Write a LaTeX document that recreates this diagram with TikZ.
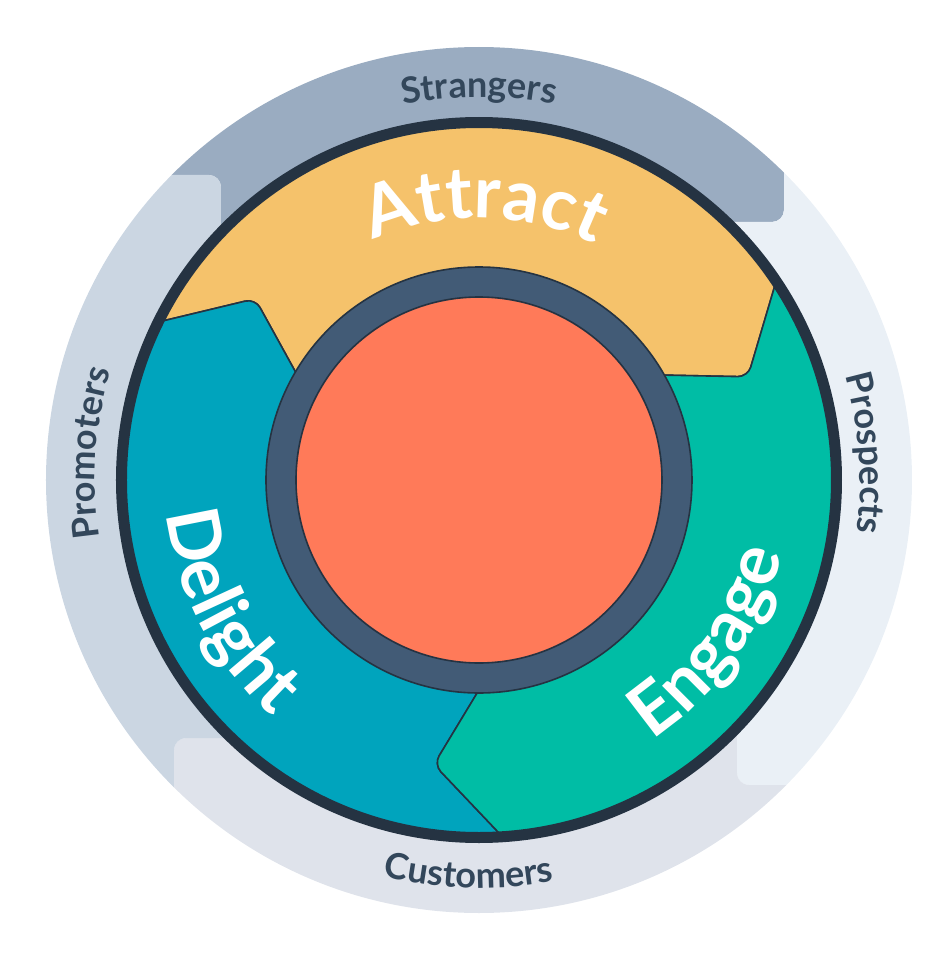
\documentclass[tikz,border=0pt]{standalone}
\usepackage{fontspec}
\setmainfont{Lato}
\usetikzlibrary{calc,decorations.text}
\definecolor{flint}{HTML}{9AACC1}
\definecolor{battleship}{HTML}{CBD6E2}
\definecolor{greatwhite}{HTML}{DFE3EB}
\definecolor{kalei}{HTML}{EAF0F6}
\definecolor{obsidian}{HTML}{253342}
\definecolor{slinky}{HTML}{33475B}
\definecolor{slate}{HTML}{425B76}
\definecolor{lorax}{HTML}{FF7A59}
\definecolor{marigold}{HTML}{F5C26B}
\definecolor{calypso}{HTML}{00A4BD}
\definecolor{oz}{HTML}{00BDA5}

\begin{document}
\begin{tikzpicture}[
  x=1pt, y=1pt,
  band/.style={fill=#1, rounded corners=12pt},
  stage/.style={fill=#1, draw=obsidian, line width=1.6pt, rounded corners=10pt, line join=round},
  outerlbl/.style={decorate, decoration={text along path, text align=center, text color=slinky, text={|\fontsize{36}{36}\selectfont\bfseries|#1}}},
  stagelbl/.style={decorate, decoration={text along path, text align=center, text color=white, text={|\fontsize{72}{72}\selectfont\bfseries|#1}}}
]
\useasboundingbox (-479,-474) rectangle (471,480);

\begin{scope}
  \clip (0,0) circle (433);
  \foreach \ang/\col in {0/flint, -90/kalei, -180/greatwhite, -270/battleship}
    \fill[band=\col, rotate=\ang] (-500,500) -- (-500,305) -- (-258,305) -- (-258,0) -- (0,0) -- (0,258) -- (305,258) -- (305,500) -- cycle;
\end{scope}

\begin{scope}
  \clip (0,0) circle (357);
  \foreach \ang/\col in {0/marigold, 120/calypso, 240/oz}
    \filldraw[stage=\col] (0,0) -- ($(\ang+21:288)!1.8!(\ang+29.5:213)$) -- (\ang+21:288)
      -- ($(\ang+21:288)!2!(\ang+33.3:354)$) -- (\ang+60:480) -- (\ang+100:480) -- (\ang+125:480)
      -- ($(\ang+141:288)!2!(\ang+153.3:354)$) -- (\ang+141:288)
      -- ($(\ang+141:288)!1.8!(\ang+149.5:213)$) -- cycle;
\end{scope}

\draw[obsidian, line width=11pt] (0,0) circle (357.5);
\filldraw[fill=slate, draw=obsidian, line width=1.6pt] (0,0) circle (213);
\filldraw[fill=lorax, draw=obsidian, line width=1.6pt] (0,0) circle (183);

\path[outerlbl=Strangers] (135:383) arc[start angle=135, end angle=45, radius=383];
\path[outerlbl=Prospects] (49:381) arc[start angle=49, end angle=-41, radius=381];
\path[outerlbl=Customers] (223.5:408) arc[start angle=223.5, end angle=313.5, radius=408];
\path[outerlbl=Promoters] (221:384) arc[start angle=221, end angle=131, radius=384];

\path[stagelbl=Attract] (133.8:262) arc[start angle=133.8, end angle=43.8, radius=262];
\path[stagelbl=Delight] (162.5:314) arc[start angle=162.5, end angle=252.5, radius=314];
\path[stagelbl=Engage] (-80:312) arc[start angle=-80, end angle=10, radius=312];
\end{tikzpicture}
\end{document}
